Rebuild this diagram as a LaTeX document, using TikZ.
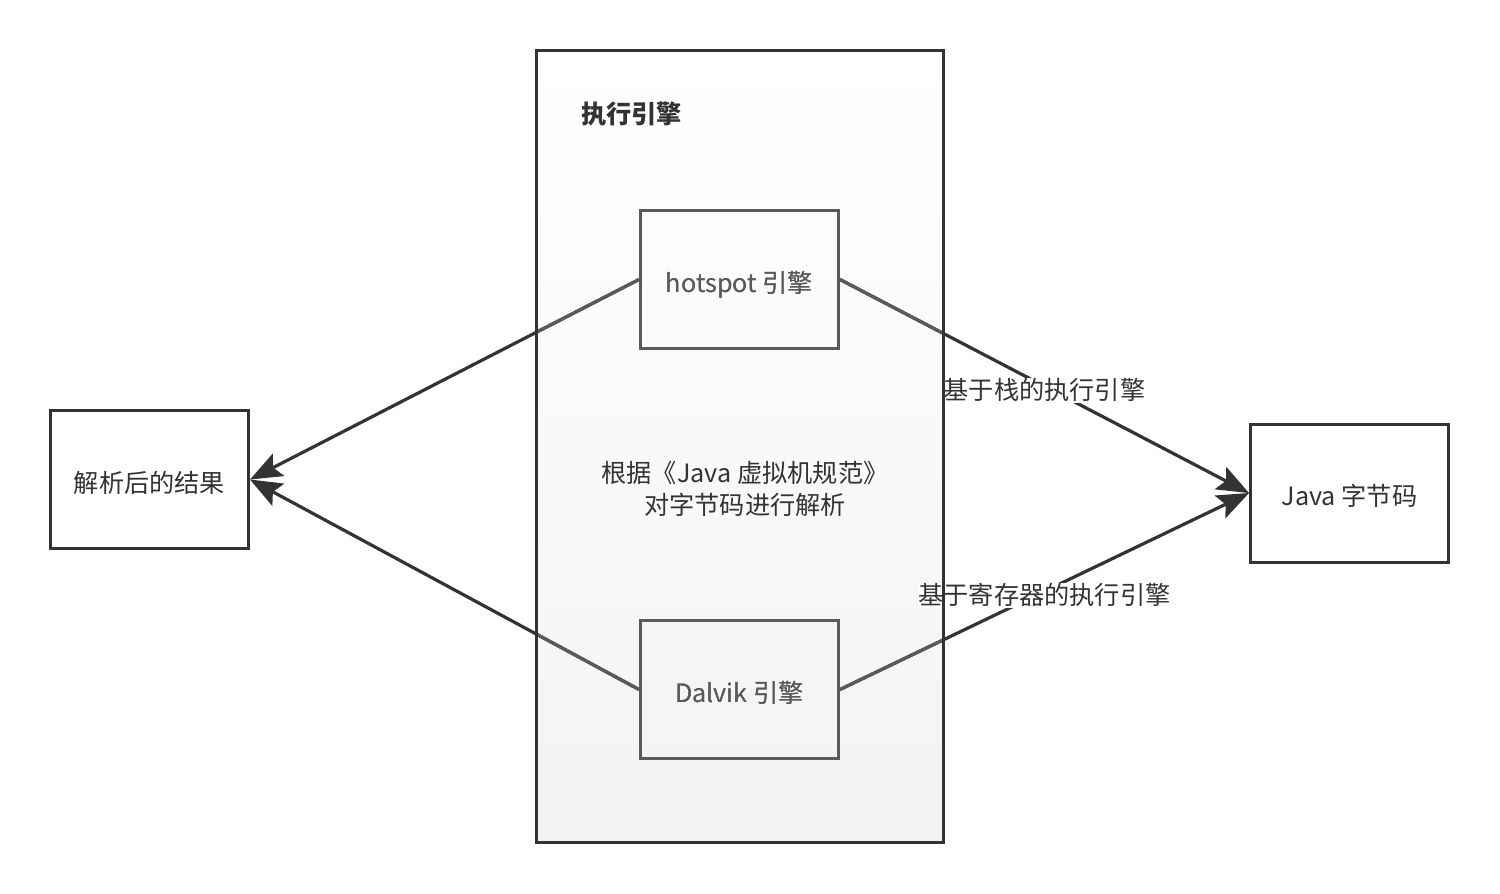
\documentclass[tikz,border=0pt]{standalone}
\usepackage{fontspec}
\setmainfont{Noto Sans CJK SC}
\usetikzlibrary{arrows.meta}
\definecolor{cdark}{HTML}{333333}
\definecolor{cgray}{HTML}{5A5A5A}
\definecolor{cpale}{HTML}{F3F3F3}
\begin{document}
\begin{tikzpicture}[x=0.5pt,y=-0.5pt,
  every node/.style={font=\fontsize{12.6pt}{16pt}\selectfont},
  box/.style={draw=cdark,line width=1.5pt,fill=white,minimum width=99pt,minimum height=69pt,inner sep=0pt,text=cdark,text height=12.8pt,text depth=0pt},
  inbox/.style={draw=cgray,line width=1.5pt,minimum width=99pt,minimum height=69pt,inner sep=0pt,text=cgray,text height=13.4pt,text depth=0pt},
  ctrbox/.style={top color=white,bottom color=cpale,minimum width=203.5pt,minimum height=396pt,inner sep=0pt},
  conn/.style={draw=cdark,line width=1.6pt,-{Stealth[length=16pt,width=12.5pt,inset=3pt]}},
  innerline/.style={draw=cgray,line width=1.6pt},
  lbl/.style={fill=white,inner sep=0.5pt,text=cdark},
  border/.style={draw=cdark,line width=1.5pt}]
\fill[white] (0,0) rectangle (1500,894);
\useasboundingbox (0,0) rectangle (1500,894);
% container
\node[ctrbox] (ctr) at (740,446.5) {};
% nodes
\node[box] (res) at (149.5,479.5) {解析后的结果};
\node[box] (java) at (1349.5,493) {Java 字节码};
\node[inbox] (hot) at (739.5,279.5) {hotspot 引擎};
\node[inbox] (dal) at (739.5,689.5) {Dalvik 引擎};
\node[anchor=west,text=cdark,font=\fontsize{12.6pt}{16pt}\selectfont\bfseries] (title) at (574,114) {执行引擎};
\node[align=center,text=cdark] (desc) at (745,489) {根据《Java 虚拟机规范》\\对字节码进行解析};
% connectors
\draw[conn] (hot.west) -- (res.east);
\draw[conn] (dal.west) -- (res.east);
\draw[conn] (hot.east) -- (java.west) node[lbl,midway,yshift=-2pt] (l1) {基于栈的执行引擎};
\draw[conn] (dal.east) -- (java.west) node[lbl,midway,yshift=-2pt] (l2) {基于寄存器的执行引擎};
% inside-container parts appear lighter
\begin{scope}
  \clip (ctr.north west) rectangle (ctr.south east);
  \draw[innerline] (hot.west) -- (res.east);
  \draw[innerline] (dal.west) -- (res.east);
  \draw[innerline] (hot.east) -- (java.west);
  \draw[innerline] (dal.east) -- (java.west);
\end{scope}
\node[inbox] at (hot) {hotspot 引擎};
\node[inbox] at (dal) {Dalvik 引擎};
\draw[border] (ctr.north west) rectangle (ctr.south east);
\end{tikzpicture}
\end{document}
